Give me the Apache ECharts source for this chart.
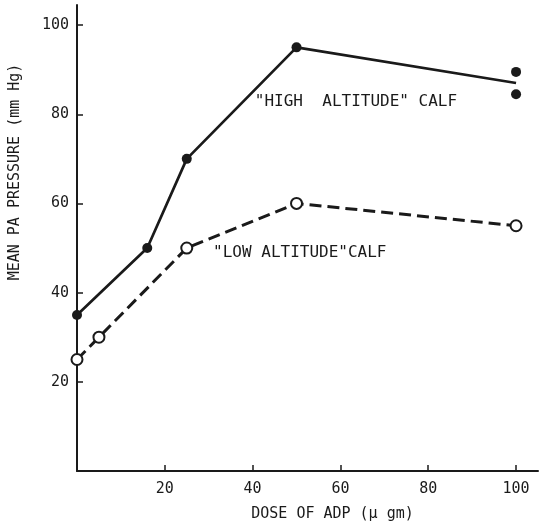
<!DOCTYPE html>
<html>
<head>
<meta charset="utf-8">
<script src="https://cdn.jsdelivr.net/npm/echarts@6/dist/echarts.min.js"></script>
<style>
  html, body { margin: 0; padding: 0; background: #fff; }
  #chart { width: 539px; height: 527px; }
</style>
</head>
<body>
<div id="chart"></div>
<script>
// ADP dose response, mean PA pressure
var doseHigh = [0, 16, 25, 50, 100];
var pressureHigh = [35, 50, 70, 95, 87];
var doseHighExtra = [100, 100];
var pressureHighExtra = [89.5, 84.5];
var doseLow = [0, 5, 25, 50, 100];
var pressureLow = [25, 30, 50, 60, 55];
var xTicks = [20, 40, 60, 80, 100];
var yTicks = [20, 40, 60, 80, 100];

var ink = '#1a1a1a';
var font = 'DejaVu Sans Mono';

function pairs(xs, ys) {
  return xs.map(function (x, i) { return [x, ys[i]]; });
}

var highData = pairs(doseHigh, pressureHigh).map(function (p, i) {
  // last point is the mean of the two dots at 100, no marker there
  return i === doseHigh.length - 1 ? { value: p, symbol: 'none' } : p;
});

var chart = echarts.init(document.getElementById('chart'));

var option = {
  backgroundColor: '#fff',
  animation: false,
  grid: { left: 77, right: 1, top: 5, bottom: 55 },
  xAxis: {
    type: 'value',
    min: 0,
    max: 105,
    name: 'DOSE OF ADP (\u03bc gm)',
    nameLocation: 'middle',
    nameGap: 36,
    nameTextStyle: { color: ink, fontFamily: font, fontSize: 15, padding: [0, 0, 0, 50] },
    splitLine: { show: false },
    axisLine: { lineStyle: { color: ink, width: 2 } },
    axisTick: { inside: true, length: 6, customValues: xTicks, lineStyle: { color: ink, width: 1.5 } },
    axisLabel: { customValues: xTicks, color: ink, fontFamily: font, fontSize: 15, margin: 11 }
  },
  yAxis: {
    type: 'value',
    min: 0,
    max: 104.5,
    name: 'MEAN PA PRESSURE (mm Hg)',
    nameLocation: 'middle',
    nameGap: 54,
    nameTextStyle: { color: ink, fontFamily: font, fontSize: 15, padding: [0, 0, 0, 132] },
    splitLine: { show: false },
    axisLine: { lineStyle: { color: ink, width: 2 } },
    axisTick: { inside: true, length: 6, customValues: yTicks, lineStyle: { color: ink, width: 1.5 } },
    axisLabel: { customValues: yTicks, color: ink, fontFamily: font, fontSize: 15, margin: 8 }
  },
  series: [
    {
      name: 'High altitude calf',
      type: 'line',
      data: highData,
      symbol: 'circle',
      symbolSize: 10,
      itemStyle: { color: ink },
      lineStyle: { color: ink, width: 2.7 }
    },
    {
      name: 'High altitude calf (100)',
      type: 'scatter',
      data: pairs(doseHighExtra, pressureHighExtra),
      symbol: 'circle',
      symbolSize: 10,
      itemStyle: { color: ink, opacity: 1 }
    },
    {
      name: 'Low altitude calf',
      type: 'line',
      data: pairs(doseLow, pressureLow),
      symbol: 'circle',
      symbolSize: 11,
      itemStyle: { color: '#fff', borderColor: ink, borderWidth: 2 },
      lineStyle: { color: ink, width: 3, type: [12, 6] }
    }
  ]
};

chart.setOption(option);

// curve labels, anchored in data coordinates
var notes = [
  { text: '"HIGH  ALTITUDE" CALF', at: [40.5, 82.8] },
  { text: '"LOW ALTITUDE"CALF', at: [31, 49] }
];
chart.setOption({
  graphic: notes.map(function (n) {
    var p = chart.convertToPixel({ gridIndex: 0 }, n.at);
    return {
      type: 'text',
      x: p[0],
      y: p[1],
      style: { text: n.text, fill: ink, font: '16px "' + font + '"', textVerticalAlign: 'middle' }
    };
  })
});
</script>
</body>
</html>
